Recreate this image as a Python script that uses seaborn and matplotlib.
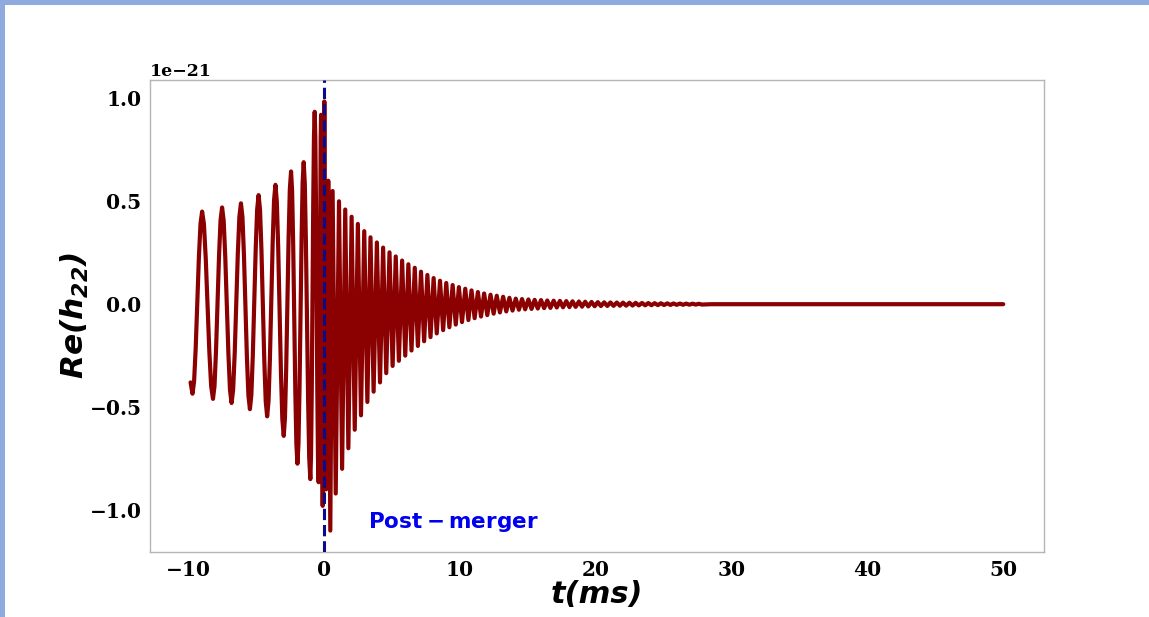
import numpy as np
import pandas as pd
import matplotlib
matplotlib.use("Agg")
import matplotlib.pyplot as plt
from matplotlib.patches import Rectangle
import seaborn as sns

# ---------------- data (values in units of 1e-21) ----------------
SCALE = 1e-21

# inspiral: extrema plus points read along each flank
inspiral_t = [-9.85, -9.71,
              -9.592, -9.473, -9.237, -9.118, -9.00,
              -8.867, -8.733, -8.467, -8.333, -8.20,
              -8.088, -7.977, -7.753, -7.642, -7.53,
              -7.413, -7.297, -7.063, -6.947, -6.83,
              -6.715, -6.60, -6.37, -6.255, -6.14,
              -6.03, -5.92, -5.70, -5.59, -5.48,
              -5.373, -5.267, -5.053, -4.947, -4.84,
              -4.735, -4.63, -4.42, -4.315, -4.21,
              -4.108, -4.007, -3.803, -3.702, -3.60,
              -3.498, -3.397, -3.193, -3.092, -2.99,
              -2.90, -2.81, -2.63, -2.54, -2.45,
              -2.372, -2.293, -2.137, -2.058, -1.98,
              -1.903, -1.827, -1.673, -1.597, -1.52,
              -1.438, -1.357, -1.193, -1.112, -1.03,
              -0.977, -0.923, -0.817, -0.763, -0.71,
              -0.662, -0.613, -0.517, -0.468, -0.42,
              -0.39, -0.36, -0.30, -0.27, -0.24,
              -0.12, 0.00]
inspiral_h = [-0.38, -0.435,
              -0.376, -0.214, 0.229, 0.391, 0.45,
              0.389, 0.2225, -0.2325, -0.399, -0.46,
              -0.398, -0.2275, 0.2375, 0.408, 0.47,
              0.406, 0.2325, -0.2425, -0.416, -0.48,
              -0.415, -0.2375, 0.2475, 0.425, 0.49,
              0.423, 0.24, -0.26, -0.443, -0.51,
              -0.44, -0.25, 0.27, 0.46, 0.53,
              0.458, 0.261, -0.276, -0.473, -0.545,
              -0.47, -0.264, 0.299, 0.505, 0.58,
              0.498, 0.275, -0.335, -0.558, -0.64,
              -0.554, -0.319, 0.324, 0.559, 0.645,
              0.55, 0.29, -0.42, -0.68, -0.775,
              -0.677, -0.409, 0.324, 0.592, 0.69,
              0.587, 0.305, -0.465, -0.747, -0.85,
              -0.73, -0.404, 0.489, 0.815, 0.935,
              0.814, 0.485, -0.415, -0.744, -0.865,
              -0.745, -0.419, 0.474, 0.80, 0.92,
              -0.98, 0.985]

merger_t = [0.13, 0.29, 0.44]
merger_h = [-0.90, 0.60, -1.10]

ring_peak_t = [0.61, 1.08, 1.54, 2.01, 2.47, 2.94, 3.40, 3.87, 4.33, 4.80,
               5.26, 5.73, 6.19, 6.66, 7.12, 7.59, 8.05, 8.52, 8.98, 9.45,
               9.91, 10.38, 10.84, 11.31, 11.77, 12.24, 12.70, 13.17, 13.63, 14.10,
               14.56, 15.03, 15.49, 15.96, 16.42, 16.89, 17.35, 17.82, 18.28, 18.75,
               19.21, 19.68, 20.14, 20.61, 21.07, 21.54, 22.00, 22.47, 22.93, 23.40,
               23.86, 24.33, 24.79, 25.26, 25.72, 26.19, 26.65, 27.12, 27.58]
ring_peak_h = [0.55, 0.50, 0.46, 0.425, 0.39, 0.355, 0.325, 0.30, 0.275, 0.252,
               0.232, 0.212, 0.194, 0.177, 0.158, 0.142, 0.127, 0.114, 0.103, 0.093,
               0.083, 0.075, 0.067, 0.059, 0.052, 0.046, 0.041, 0.036, 0.031, 0.027,
               0.025, 0.023, 0.021, 0.020, 0.018, 0.017, 0.016, 0.015, 0.014, 0.013,
               0.012, 0.011, 0.010, 0.009, 0.0085, 0.008, 0.0075, 0.007, 0.0065, 0.006,
               0.0055, 0.005, 0.0045, 0.004, 0.0035, 0.003, 0.0028, 0.0025, 0.002]

ring_trough_t = [0.84, 1.31, 1.77, 2.24, 2.70, 3.17, 3.63, 4.10, 4.56, 5.03,
                 5.49, 5.96, 6.42, 6.89, 7.35, 7.82, 8.28, 8.75, 9.21, 9.68,
                 10.14, 10.61, 11.07, 11.54, 12.00, 12.47, 12.93, 13.40, 13.86, 14.33,
                 14.79, 15.26, 15.72, 16.19, 16.65, 17.12, 17.58, 18.05, 18.51, 18.98,
                 19.44, 19.91, 20.37, 20.84, 21.30, 21.77, 22.23, 22.70, 23.16, 23.63,
                 24.09, 24.56, 25.02, 25.49, 25.95, 26.42, 26.88, 27.35, 27.81]
ring_trough_h = [-0.92, -0.80, -0.70, -0.61, -0.54, -0.475, -0.425, -0.38, -0.335, -0.30,
                 -0.275, -0.25, -0.225, -0.203, -0.18, -0.16, -0.142, -0.126, -0.112, -0.099,
                 -0.087, -0.077, -0.068, -0.060, -0.053, -0.046, -0.040, -0.035, -0.031, -0.027,
                 -0.025, -0.023, -0.021, -0.019, -0.018, -0.016, -0.015, -0.014, -0.013, -0.012,
                 -0.011, -0.010, -0.009, -0.0085, -0.008, -0.0075, -0.007, -0.0065, -0.006, -0.0055,
                 -0.005, -0.0045, -0.004, -0.0035, -0.003, -0.0028, -0.0025, -0.002, -0.0018]

tail_t = [28.5, 50.0]
tail_h = [0.0, 0.0]

x_ticks = [-10, 0, 10, 20, 30, 40, 50]
y_ticks = [-1.0, -0.5, 0.0, 0.5, 1.0]

merger_time = 0.0
xlabel = "t(ms)"
ylabel = r"$Re(h_{22})$"
annotation = r"$\bf{Post-merger}$"

# ---------------- assemble ----------------
df = pd.DataFrame({
    "t": inspiral_t + merger_t + ring_peak_t + ring_trough_t + tail_t,
    "h": inspiral_h + merger_h + ring_peak_h + ring_trough_h + tail_h,
}).sort_values("t").reset_index(drop=True)
df["h"] = df["h"] * SCALE

# ---------------- style ----------------
sns.set_theme(style="whitegrid")
plt.rcParams["font.family"] = ["DejaVu Serif"]
plt.rcParams["mathtext.fontset"] = "custom"
plt.rcParams["mathtext.rm"] = "DejaVu Sans:bold:italic"
plt.rcParams["mathtext.it"] = "DejaVu Sans:bold:italic"
plt.rcParams["mathtext.bf"] = "DejaVu Sans:bold"

fig = plt.figure(figsize=(11.49, 6.17), dpi=100)
ax = fig.add_axes([0.1305, 0.1053, 0.778, 0.765])

sns.lineplot(data=df, x="t", y="h", ax=ax, color="#8B0000", linewidth=3.0,
             estimator=None, sort=False, solid_joinstyle="round", solid_capstyle="round")

ax.axvline(merger_time, color="#0A0A8C", linestyle="--", linewidth=2.2, zorder=3)

ax.text(3.2, -1.06 * SCALE, annotation, color="#0000EE", fontsize=15.5, va="center", ha="left")

ax.set_xticks(x_ticks)
ax.set_yticks([v * SCALE for v in y_ticks])

ax.grid(False)
for s in ax.spines.values():
    s.set_color("#b5b5b5")
    s.set_linewidth(1.0)

ax.set_xlabel(xlabel, fontsize=22, fontweight="bold", style="italic", family="DejaVu Sans",
              labelpad=0, color="black")
ax.set_ylabel(ylabel, fontsize=22.5, labelpad=-1, color="black")

ax.tick_params(axis="both", labelsize=14.5, length=0, pad=6, colors="black")
for lab in ax.get_xticklabels() + ax.get_yticklabels():
    lab.set_fontweight("bold")
off = ax.yaxis.get_offset_text()
off.set_fontsize(12.5)
off.set_fontweight("bold")
off.set_color("black")

# slide border (light blue band at left and top)
fig.patches.append(Rectangle((0, 0), 5 / 1149, 1, transform=fig.transFigure,
                             facecolor="#8FAADC", edgecolor="none", zorder=0))
fig.patches.append(Rectangle((0, 1 - 5 / 617), 1, 5 / 617, transform=fig.transFigure,
                             facecolor="#8FAADC", edgecolor="none", zorder=0))

fig.savefig("out.png", dpi=100, facecolor="white")
